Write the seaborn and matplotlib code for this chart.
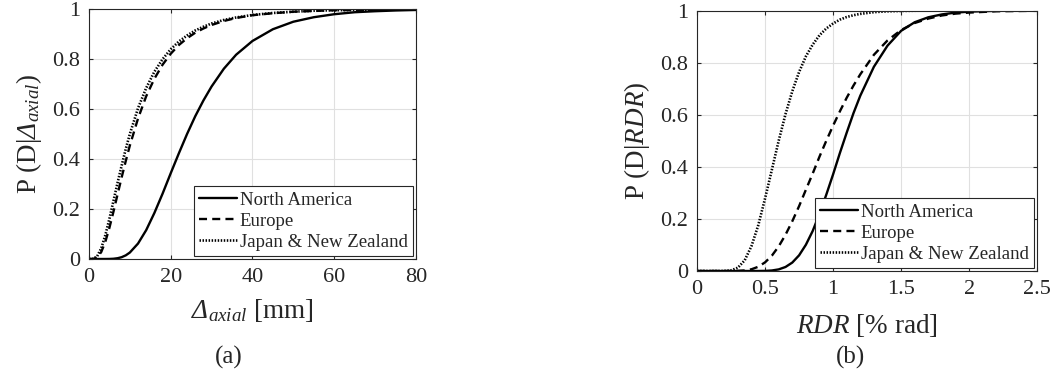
import matplotlib
matplotlib.use("Agg")
import matplotlib.pyplot as plt
import pandas as pd
import seaborn as sns

# ---- panel (a): probability of damage vs. axial deformation ----
disp_mm = [0, 1, 2, 3, 4, 5, 6, 7, 8, 9, 10, 12, 14, 16, 18, 20, 22, 24, 26, 28,
           30, 33, 36, 40, 45, 50, 55, 60, 65, 70, 75, 80]
p_axial_na = [0, 0, 0, 0, 0, 0.0002, 0.0010, 0.0031, 0.0073, 0.0146, 0.0259, 0.0618,
              0.1155, 0.184, 0.261, 0.343, 0.423, 0.500, 0.571, 0.634, 0.690, 0.761,
              0.817, 0.872, 0.919, 0.949, 0.967, 0.979, 0.987, 0.991, 0.994, 0.996]
p_axial_eu = [0, 0.0002, 0.0059, 0.0279, 0.0689, 0.125, 0.190, 0.259, 0.327, 0.392,
              0.454, 0.562, 0.651, 0.721, 0.777, 0.821, 0.856, 0.883, 0.905, 0.922,
              0.936, 0.952, 0.964, 0.975, 0.983, 0.989, 0.992, 0.995, 0.996, 0.997,
              0.998, 0.9986]
p_axial_jp = [0, 0.0005, 0.0107, 0.0427, 0.095, 0.161, 0.233, 0.305, 0.374, 0.440,
              0.500, 0.603, 0.684, 0.749, 0.799, 0.839, 0.870, 0.894, 0.914, 0.929,
              0.942, 0.956, 0.966, 0.976, 0.984, 0.989, 0.993, 0.995, 0.996, 0.997,
              0.998, 0.9985]

# ---- panel (b): probability of damage vs. residual drift ratio ----
rdr_pct = [0, 0.1, 0.2, 0.25, 0.3, 0.35, 0.4, 0.45, 0.5, 0.55, 0.6, 0.65, 0.7, 0.75,
           0.8, 0.85, 0.9, 0.95, 1.0, 1.05, 1.1, 1.15, 1.2, 1.3, 1.4, 1.5, 1.6, 1.7,
           1.8, 1.9, 2.0, 2.2, 2.5]
p_rdr_na = [0, 0, 0, 0, 0, 0, 0, 0.0001, 0.0005, 0.0020, 0.0062, 0.0154, 0.0324,
            0.0602, 0.1008, 0.1536, 0.2194, 0.293, 0.371, 0.453, 0.531, 0.606, 0.673,
            0.784, 0.865, 0.922, 0.955, 0.974, 0.985, 0.9919, 0.9956, 0.9988, 0.9998]
p_rdr_eu = [0, 0, 0, 0, 0.0005, 0.0022, 0.0067, 0.0163, 0.0333, 0.059, 0.0944, 0.139,
            0.191, 0.249, 0.312, 0.374, 0.439, 0.500, 0.558, 0.613, 0.665, 0.712,
            0.755, 0.830, 0.885, 0.925, 0.952, 0.969, 0.981, 0.988, 0.992, 0.997,
            0.999]
p_rdr_jp = [0, 0, 0.0002, 0.0024, 0.0127, 0.041, 0.0958, 0.176, 0.279, 0.389, 0.500,
            0.602, 0.690, 0.764, 0.824, 0.869, 0.905, 0.931, 0.950, 0.965, 0.975,
            0.982, 0.987, 0.9937, 0.9969, 0.9984, 0.9992, 0.9996, 0.9998, 0.9999, 1,
            1, 1]

regions = ["North America", "Europe", "Japan & New Zealand"]

xticks_a = [0, 20, 40, 60, 80]
xticklabels_a = ["0", "20", "40", "60", "80"]
xticks_b = [0, 0.5, 1, 1.5, 2, 2.5]
xticklabels_b = ["0", "0.5", "1", "1.5", "2", "2.5"]
yticks = [0, 0.2, 0.4, 0.6, 0.8, 1]
yticklabels = ["0", "0.2", "0.4", "0.6", "0.8", "1"]

line_styles = {
    "North America": dict(linestyle="-", linewidth=1.7),
    "Europe": dict(linestyle=(0, (3.4, 2.2)), linewidth=1.7),
    "Japan & New Zealand": dict(linestyle=(0, (0.55, 0.6)), linewidth=1.9),
}

sns.set_style("ticks")
plt.rcParams["font.family"] = ["Liberation Serif", "DejaVu Serif"]
plt.rcParams["mathtext.fontset"] = "custom"
plt.rcParams["mathtext.rm"] = "Liberation Serif"
plt.rcParams["mathtext.it"] = "Liberation Serif:italic"
plt.rcParams["mathtext.bf"] = "Liberation Serif:bold"
# slanted capital Greek (mathit keeps capital Greek upright)
plt.rcParams["mathtext.sf"] = "Liberation Serif:italic"

INK = "#262626"

fig = plt.figure(figsize=(10.53, 3.74), dpi=100)
ax_a = fig.add_axes([0.0845, 0.3075, 0.3105, 0.6685])
ax_b = fig.add_axes([0.662, 0.2754, 0.3229, 0.6965])

df_a = pd.DataFrame({
    "x": disp_mm * 3,
    "p": p_axial_na + p_axial_eu + p_axial_jp,
    "region": sum([[r] * len(disp_mm) for r in regions], []),
})
df_b = pd.DataFrame({
    "x": rdr_pct * 3,
    "p": p_rdr_na + p_rdr_eu + p_rdr_jp,
    "region": sum([[r] * len(rdr_pct) for r in regions], []),
})


def draw_panel(ax, df, xlim, xticks, xticklabels, xlabel, ylabel, xlabelpad):
    for r in regions:
        sub = df[df["region"] == r]
        sns.lineplot(data=sub, x="x", y="p", ax=ax, color="black", label=r,
                     estimator=None, sort=False, **line_styles[r])
    ax.set_xlim(*xlim)
    ax.set_ylim(0, 1)
    ax.set_xticks(xticks)
    ax.set_xticklabels(xticklabels)
    ax.set_yticks(yticks)
    ax.set_yticklabels(yticklabels)
    ax.grid(True, color="#e0e0e0", linewidth=0.8)
    ax.set_axisbelow(True)
    for s in ax.spines.values():
        s.set_visible(True)
        s.set_color(INK)
        s.set_linewidth(0.8)
    ax.tick_params(direction="in", length=3, width=0.8, top=True, right=True,
                   labelsize=16, colors=INK, pad=6.5)
    ax.set_xlabel(xlabel, fontsize=19.5, color=INK, labelpad=xlabelpad)
    ax.set_ylabel(ylabel, fontsize=19.5, color=INK, labelpad=6)
    leg = ax.legend(loc="lower right", fontsize=13.5, frameon=True, fancybox=False,
                    edgecolor=INK, framealpha=1, borderaxespad=0.15,
                    handlelength=2.0, handletextpad=0.15, labelspacing=0.2,
                    borderpad=0.3)
    leg.get_frame().set_linewidth(0.8)


draw_panel(ax_a, df_a, (0, 80), xticks_a, xticklabels_a,
           r"$\mathsf{\Delta}_{axial}$ [mm]", r"P (D|$\mathsf{\Delta}_{axial}$)", 7)
draw_panel(ax_b, df_b, (0, 2.5), xticks_b, xticklabels_b,
           r"$RDR$ [% rad]", r"P (D|$RDR$)", 9)

fig.text(0.2175, 0.0455, "(a)", ha="center", va="center", fontsize=18, color=INK)
fig.text(0.808, 0.0455, "(b)", ha="center", va="center", fontsize=18, color=INK)

fig.savefig("out.png", dpi=100)
